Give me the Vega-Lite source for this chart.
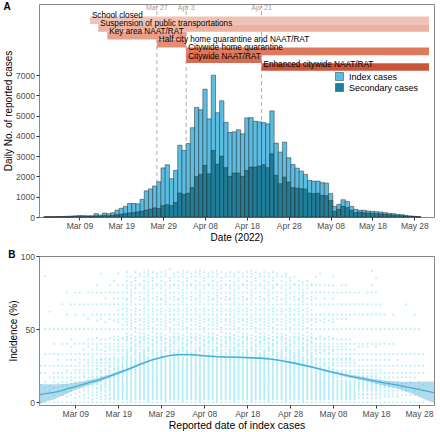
{
"$schema": "https://vega.github.io/schema/vega-lite/v6.json",
"padding": {"left": 3, "top": 1, "right": 1, "bottom": 1},
"bounds": "flush",
"spacing": 39,
"datasets": {
"lines": [
{"date": "2022-03-27T12:00:00Z", "label": "Mar 27"},
{"date": "2022-04-03T12:00:00Z", "label": "Apr 3"},
{"date": "2022-04-21T12:00:00Z", "label": "Apr 21"}
],
"measures": [
{"row": 1, "label": "School closed", "date": "2022-03-11T12:00:00Z", "end": "2022-05-31T12:00:00Z"},
{"row": 2, "label": "Suspension of public transportations", "date": "2022-03-13T12:00:00Z", "end": "2022-05-31T12:00:00Z"},
{"row": 3, "label": "Key area NAAT/RAT", "date": "2022-03-15T16:00:00Z", "end": "2022-04-03T12:00:00Z"},
{"row": 4, "label": "Half city home quarantine and NAAT/RAT", "date": "2022-03-27T12:00:00Z", "end": "2022-04-03T12:00:00Z"},
{"row": 5, "label": "Citywide home quarantine", "date": "2022-04-03T12:00:00Z", "end": "2022-05-31T12:00:00Z"},
{"row": 6, "label": "Citywide NAAT/RAT", "date": "2022-04-03T12:00:00Z", "end": "2022-04-21T12:00:00Z"},
{"row": 7, "label": "Enhanced citywide NAAT/RAT", "date": "2022-04-21T12:00:00Z", "end": "2022-05-31T12:00:00Z"}
],
"cases": [
{"date":"2022-03-01","Index cases":8,"Secondary cases":2},
{"date":"2022-03-02","Index cases":10,"Secondary cases":3},
{"date":"2022-03-03","Index cases":12,"Secondary cases":4},
{"date":"2022-03-04","Index cases":20,"Secondary cases":6},
{"date":"2022-03-05","Index cases":25,"Secondary cases":8},
{"date":"2022-03-06","Index cases":35,"Secondary cases":10},
{"date":"2022-03-07","Index cases":45,"Secondary cases":12},
{"date":"2022-03-08","Index cases":60,"Secondary cases":15},
{"date":"2022-03-09","Index cases":75,"Secondary cases":20},
{"date":"2022-03-10","Index cases":70,"Secondary cases":20},
{"date":"2022-03-11","Index cases":60,"Secondary cases":18},
{"date":"2022-03-12","Index cases":65,"Secondary cases":20},
{"date":"2022-03-13","Index cases":165,"Secondary cases":55},
{"date":"2022-03-14","Index cases":100,"Secondary cases":35},
{"date":"2022-03-15","Index cases":195,"Secondary cases":70},
{"date":"2022-03-16","Index cases":160,"Secondary cases":60},
{"date":"2022-03-17","Index cases":210,"Secondary cases":80},
{"date":"2022-03-18","Index cases":340,"Secondary cases":110},
{"date":"2022-03-19","Index cases":430,"Secondary cases":140},
{"date":"2022-03-20","Index cases":520,"Secondary cases":170},
{"date":"2022-03-21","Index cases":670,"Secondary cases":200},
{"date":"2022-03-22","Index cases":665,"Secondary cases":220},
{"date":"2022-03-23","Index cases":650,"Secondary cases":250},
{"date":"2022-03-24","Index cases":870,"Secondary cases":290},
{"date":"2022-03-25","Index cases":1290,"Secondary cases":340},
{"date":"2022-03-26","Index cases":1385,"Secondary cases":390},
{"date":"2022-03-27","Index cases":1530,"Secondary cases":450},
{"date":"2022-03-28","Index cases":1740,"Secondary cases":420},
{"date":"2022-03-29","Index cases":2420,"Secondary cases":560},
{"date":"2022-03-30","Index cases":2575,"Secondary cases":610},
{"date":"2022-03-31","Index cases":1890,"Secondary cases":560},
{"date":"2022-04-01","Index cases":2300,"Secondary cases":720},
{"date":"2022-04-02","Index cases":3540,"Secondary cases":1180},
{"date":"2022-04-03","Index cases":3285,"Secondary cases":1115},
{"date":"2022-04-04","Index cases":3620,"Secondary cases":1170},
{"date":"2022-04-05","Index cases":4400,"Secondary cases":1450},
{"date":"2022-04-06","Index cases":5400,"Secondary cases":1990},
{"date":"2022-04-07","Index cases":5290,"Secondary cases":2100},
{"date":"2022-04-08","Index cases":6300,"Secondary cases":2545},
{"date":"2022-04-09","Index cases":4840,"Secondary cases":2130},
{"date":"2022-04-10","Index cases":6990,"Secondary cases":3280},
{"date":"2022-04-11","Index cases":5140,"Secondary cases":2600},
{"date":"2022-04-12","Index cases":5730,"Secondary cases":3000},
{"date":"2022-04-13","Index cases":4665,"Secondary cases":2430},
{"date":"2022-04-14","Index cases":4170,"Secondary cases":2000},
{"date":"2022-04-15","Index cases":4200,"Secondary cases":2165},
{"date":"2022-04-16","Index cases":4300,"Secondary cases":2165},
{"date":"2022-04-17","Index cases":4100,"Secondary cases":2000},
{"date":"2022-04-18","Index cases":4885,"Secondary cases":2295},
{"date":"2022-04-19","Index cases":4900,"Secondary cases":2460},
{"date":"2022-04-20","Index cases":4720,"Secondary cases":2460},
{"date":"2022-04-21","Index cases":4690,"Secondary cases":2510},
{"date":"2022-04-22","Index cases":4655,"Secondary cases":2575},
{"date":"2022-04-23","Index cases":4590,"Secondary cases":2430},
{"date":"2022-04-24","Index cases":5230,"Secondary cases":3115},
{"date":"2022-04-25","Index cases":3640,"Secondary cases":2050},
{"date":"2022-04-26","Index cases":3200,"Secondary cases":1640},
{"date":"2022-04-27","Index cases":3690,"Secondary cases":1965},
{"date":"2022-04-28","Index cases":2920,"Secondary cases":1720},
{"date":"2022-04-29","Index cases":2590,"Secondary cases":1440},
{"date":"2022-04-30","Index cases":2410,"Secondary cases":1425},
{"date":"2022-05-01","Index cases":2260,"Secondary cases":1395},
{"date":"2022-05-02","Index cases":2100,"Secondary cases":1375},
{"date":"2022-05-03","Index cases":1800,"Secondary cases":1180},
{"date":"2022-05-04","Index cases":1770,"Secondary cases":1150},
{"date":"2022-05-05","Index cases":1770,"Secondary cases":1165},
{"date":"2022-05-06","Index cases":1690,"Secondary cases":1065},
{"date":"2022-05-07","Index cases":1670,"Secondary cases":1050},
{"date":"2022-05-08","Index cases":1150,"Secondary cases":820},
{"date":"2022-05-09","Index cases":525,"Secondary cases":280},
{"date":"2022-05-10","Index cases":625,"Secondary cases":375},
{"date":"2022-05-11","Index cases":850,"Secondary cases":525},
{"date":"2022-05-12","Index cases":770,"Secondary cases":460},
{"date":"2022-05-13","Index cases":525,"Secondary cases":330},
{"date":"2022-05-14","Index cases":375,"Secondary cases":215},
{"date":"2022-05-15","Index cases":330,"Secondary cases":230},
{"date":"2022-05-16","Index cases":330,"Secondary cases":215},
{"date":"2022-05-17","Index cases":295,"Secondary cases":195},
{"date":"2022-05-18","Index cases":280,"Secondary cases":180},
{"date":"2022-05-19","Index cases":260,"Secondary cases":165},
{"date":"2022-05-20","Index cases":245,"Secondary cases":150},
{"date":"2022-05-21","Index cases":215,"Secondary cases":130},
{"date":"2022-05-22","Index cases":180,"Secondary cases":115},
{"date":"2022-05-23","Index cases":165,"Secondary cases":100},
{"date":"2022-05-24","Index cases":130,"Secondary cases":80},
{"date":"2022-05-25","Index cases":115,"Secondary cases":65},
{"date":"2022-05-26","Index cases":80,"Secondary cases":50},
{"date":"2022-05-27","Index cases":50,"Secondary cases":35},
{"date":"2022-05-28","Index cases":35,"Secondary cases":20},
{"date":"2022-05-29","Index cases":15,"Secondary cases":10}
],
"fit": [
{"date":"2022-02-28T13:00:00Z","fit":5.0,"lo":-1.5,"hi":12.4},
{"date":"2022-03-02","fit":5.9,"lo":0.5,"hi":12.3},
{"date":"2022-03-04","fit":6.8,"lo":2.2,"hi":12.3},
{"date":"2022-03-06","fit":8.2,"lo":4.6,"hi":12.6},
{"date":"2022-03-08","fit":9.9,"lo":7.3,"hi":13.1},
{"date":"2022-03-10","fit":11.6,"lo":9.6,"hi":13.9},
{"date":"2022-03-12","fit":13.3,"lo":11.6,"hi":15.1},
{"date":"2022-03-15","fit":15.9,"lo":14.6,"hi":17.3},
{"date":"2022-03-18","fit":19.0,"lo":18.0,"hi":20.0},
{"date":"2022-03-21","fit":22.3,"lo":21.5,"hi":23.1},
{"date":"2022-03-25","fit":27.0,"lo":26.3,"hi":27.7},
{"date":"2022-03-29","fit":30.7,"lo":30.1,"hi":31.3},
{"date":"2022-04-02","fit":32.6,"lo":32.0,"hi":33.2},
{"date":"2022-04-05","fit":32.6,"lo":32.0,"hi":33.2},
{"date":"2022-04-08","fit":31.8,"lo":31.2,"hi":32.4},
{"date":"2022-04-12","fit":31.1,"lo":30.5,"hi":31.7},
{"date":"2022-04-18","fit":30.6,"lo":30.0,"hi":31.2},
{"date":"2022-04-23","fit":29.7,"lo":29.1,"hi":30.3},
{"date":"2022-04-28","fit":27.4,"lo":26.8,"hi":28.0},
{"date":"2022-05-03","fit":24.2,"lo":23.5,"hi":24.9},
{"date":"2022-05-08","fit":20.5,"lo":19.7,"hi":21.3},
{"date":"2022-05-12","fit":17.8,"lo":16.8,"hi":18.8},
{"date":"2022-05-15","fit":16.2,"lo":15.0,"hi":17.4},
{"date":"2022-05-18","fit":14.3,"lo":12.8,"hi":15.8},
{"date":"2022-05-21","fit":12.8,"lo":10.8,"hi":14.6},
{"date":"2022-05-24","fit":11.3,"lo":8.5,"hi":14.0},
{"date":"2022-05-27","fit":9.4,"lo":5.2,"hi":14.0},
{"date":"2022-05-29","fit":8.2,"lo":2.5,"hi":14.1},
{"date":"2022-05-31T12:00:00Z","fit":6.6,"lo":-0.5,"hi":14.2}
],
"points": [
{"date":"2022-03-01","p":[0,6,12,20,25]},
{"date":"2022-03-02","p":[0,10,14,20,25,33,50,86]},
{"date":"2022-03-03","p":[0,8,11,17,25,33,50,62]},
{"date":"2022-03-04","p":[0,5,10,14,17,20,25,33,40,50]},
{"date":"2022-03-05","p":[0,7,10,13,17,20,25,29,33,50]},
{"date":"2022-03-06","p":[0,5,8,11,14,17,20,25,33,40,50,67]},
{"date":"2022-03-07","p":[0,4,7,10,12,14,17,20,22,25,29,33,40,50,60,75]},
{"date":"2022-03-08","p":[0,5,8,10,13,15,17,20,25,29,33,38,43,50,67]},
{"date":"2022-03-09","p":[0,3,6,9,11,13,14,17,20,22,25,29,33,40,50,60,67,75]},
{"date":"2022-03-10","p":[0,4,7,10,12,14,17,20,22,25,27,30,33,40,50,67,75]},
{"date":"2022-03-11","p":[0,3,5,8,10,12,14,17,18,20,22,25,29,33,36,40,50,60,67]},
{"date":"2022-03-12","p":[0,3,6,8,10,12,14,15,17,20,22,25,27,29,33,38,40,43,50,57,67,75]},
{"date":"2022-03-13","p":[0,2,5,7,9,11,12,14,15,17,18,20,22,25,27,29,31,33,36,40,43,50,60,67,75]},
{"date":"2022-03-14","p":[0,3,5,7,9,10,12,13,14,17,18,20,22,23,25,27,29,33,36,38,40,44,50,56,60,67,75,80]},
{"date":"2022-03-15","p":[0,2,4,6,8,9,10,11,12,14,15,17,18,20,21,22,25,27,29,30,33,36,40,43,50,57,60,67,75,88]},
{"date":"2022-03-16","p":[0,2,4,5,7,8,10,11,12,13,14,15,17,18,20,22,23,25,27,29,30,33,35,38,40,43,50,55,60,67,71,75]},
{"date":"2022-03-17","p":[0,2,3,5,6,8,9,10,11,12,13,14,15,16,17,18,20,21,22,24,25,27,29,30,33,36,38,40,44,50,57,60,67,75,80]},
{"date":"2022-03-18","p":[0,2,3,4,5,6,7,8,9,10,11,12,13,14,15,16,17,18,19,20,22,23,25,27,29,30,31,33,36,38,40,43,45,50,56,60,67,71,75,83]},
{"date":"2022-03-19","p":[0,2,3,4,5,6,7,8,9,10,11,12,13,14,15,16,17,18,19,20,21,22,23,24,25,27,28,29,30,33,35,36,38,40,42,43,45,50,55,57,60,63,67,71,75,80,88]},
{"date":"2022-03-20","p":[0,2,3,4,5,6,7,8,9,10,11,12,13,14,15,16,17,18,19,20,21,22,23,24,25,26,27,29,30,31,33,35,36,38,40,43,44,50,53,57,60,64,67,71,75,80]},
{"date":"2022-03-21","p":[0,2,3,4,5,6,7,8,9,10,11,12,13,14,15,16,17,18,19,20,21,22,23,24,25,26,27,28,29,30,31,32,33,34,35,36,38,40,42,43,44,45,47,50,53,55,57,60,62,64,67,70,71,75,78,80,83,86,89]},
{"date":"2022-03-22","p":[0,1,2,3,4,5,6,7,8,9,10,11,12,13,14,15,16,17,18,19,20,21,22,23,24,25,26,27,28,29,30,31,33,35,36,37,38,40,41,43,44,46,50,52,54,56,58,60,63,67,69,71,73,75,77,80,82,86]},
{"date":"2022-03-23","p":[0,2,3,4,5,6,7,8,9,10,11,12,13,14,15,16,17,18,19,20,21,22,23,24,25,26,27,28,29,30,32,33,34,35,36,38,39,40,42,43,45,48,50,51,55,57,60,62,64,67,71,75,78,80,83,85,89]},
{"date":"2022-03-24","p":[0,2,3,4,5,6,7,8,9,10,11,12,13,14,15,16,17,18,19,20,21,22,23,24,25,26,27,28,29,30,31,32,33,34,36,38,40,41,42,44,45,47,50,53,56,57,60,63,67,70,72,75,80,81,86,88]},
{"date":"2022-03-25","p":[0,2,3,4,5,6,7,8,9,10,11,12,13,14,15,16,17,18,19,20,21,22,23,24,25,26,27,28,29,30,31,32,33,34,35,36,38,40,42,43,44,45,47,50,53,55,57,60,62,64,67,70,71,75,78,80,83,86,89]},
{"date":"2022-03-26","p":[0,1,2,3,4,5,6,7,8,9,10,11,12,13,14,15,16,17,18,19,20,21,22,23,24,25,26,27,28,29,30,31,33,35,36,37,38,40,41,43,44,46,50,52,54,56,58,60,63,67,69,71,73,75,77,80,82,86,88,90]},
{"date":"2022-03-27","p":[0,2,3,4,5,6,7,8,9,10,11,12,13,14,15,16,17,18,19,20,21,22,23,24,25,26,27,28,29,30,32,33,34,35,36,38,39,40,42,43,45,48,50,51,55,57,60,62,64,67,71,75,78,80,83,85,89]},
{"date":"2022-03-28","p":[0,2,3,4,5,6,7,8,9,10,11,12,13,14,15,16,17,18,19,20,21,22,23,24,25,26,27,28,29,30,31,32,33,34,36,38,40,41,42,44,45,47,50,53,56,57,60,63,67,70,72,75,80,81,86,88]},
{"date":"2022-03-29","p":[0,2,3,4,5,6,7,8,9,10,11,12,13,14,15,16,17,18,19,20,21,22,23,24,25,26,27,28,29,30,31,32,33,34,35,36,38,40,42,43,44,45,47,50,53,55,57,60,62,64,67,70,71,75,78,80,83,86,89]},
{"date":"2022-03-30","p":[0,1,2,3,4,5,6,7,8,9,10,11,12,13,14,15,16,17,18,19,20,21,22,23,24,25,26,27,28,29,30,31,33,35,36,37,38,40,41,43,44,46,50,52,54,56,58,60,63,67,69,71,73,75,77,80,82,86,88,90]},
{"date":"2022-03-31","p":[0,2,3,4,5,6,7,8,9,10,11,12,13,14,15,16,17,18,19,20,21,22,23,24,25,26,27,28,29,30,32,33,34,35,36,38,39,40,42,43,45,48,50,51,55,57,60,62,64,67,71,75,78,80,83,85,91]},
{"date":"2022-04-01","p":[0,2,3,4,5,6,7,8,9,10,11,12,13,14,15,16,17,18,19,20,21,22,23,24,25,26,27,28,29,30,31,32,33,34,36,38,40,41,42,44,45,47,50,53,56,57,60,63,67,70,72,75,80,81,86,88]},
{"date":"2022-04-02","p":[0,2,3,4,5,6,7,8,9,10,11,12,13,14,15,16,17,18,19,20,21,22,23,24,25,26,27,28,29,30,31,32,33,34,35,36,38,40,42,43,44,45,47,50,53,55,57,60,62,64,67,70,71,75,78,80,83,86,89]},
{"date":"2022-04-03","p":[0,1,2,3,4,5,6,7,8,9,10,11,12,13,14,15,16,17,18,19,20,21,22,23,24,25,26,27,28,29,30,31,33,35,36,37,38,40,41,43,44,46,50,52,54,56,58,60,63,67,69,71,73,75,77,80,82,86,88,90]},
{"date":"2022-04-04","p":[0,2,3,4,5,6,7,8,9,10,11,12,13,14,15,16,17,18,19,20,21,22,23,24,25,26,27,28,29,30,32,33,34,35,36,38,39,40,42,43,45,48,50,51,55,57,60,62,64,67,71,75,78,80,83,85,89]},
{"date":"2022-04-05","p":[0,2,3,4,5,6,7,8,9,10,11,12,13,14,15,16,17,18,19,20,21,22,23,24,25,26,27,28,29,30,31,32,33,34,36,38,40,41,42,44,45,47,50,53,56,57,60,63,67,70,72,75,80,81,86,88]},
{"date":"2022-04-06","p":[0,2,3,4,5,6,7,8,9,10,11,12,13,14,15,16,17,18,19,20,21,22,23,24,25,26,27,28,29,30,31,32,33,34,35,36,38,40,42,43,44,45,47,50,53,55,57,60,62,64,67,70,71,75,78,80,83,86,89]},
{"date":"2022-04-07","p":[0,1,2,3,4,5,6,7,8,9,10,11,12,13,14,15,16,17,18,19,20,21,22,23,24,25,26,27,28,29,30,31,33,35,36,37,38,40,41,43,44,46,50,52,54,56,58,60,63,67,69,71,73,75,77,80,82,86,88,90]},
{"date":"2022-04-08","p":[0,2,3,4,5,6,7,8,9,10,11,12,13,14,15,16,17,18,19,20,21,22,23,24,25,26,27,28,29,30,32,33,34,35,36,38,39,40,42,43,45,48,50,51,55,57,60,62,64,67,71,75,78,80,83,85,89]},
{"date":"2022-04-09","p":[0,2,3,4,5,6,7,8,9,10,11,12,13,14,15,16,17,18,19,20,21,22,23,24,25,26,27,28,29,30,31,32,33,34,36,38,40,41,42,44,45,47,50,53,56,57,60,63,67,70,72,75,80,81,86,88]},
{"date":"2022-04-10","p":[0,2,3,4,5,6,7,8,9,10,11,12,13,14,15,16,17,18,19,20,21,22,23,24,25,26,27,28,29,30,31,32,33,34,35,36,38,40,42,43,44,45,47,50,53,55,57,60,62,64,67,70,71,75,78,80,83,86,89]},
{"date":"2022-04-11","p":[0,1,2,3,4,5,6,7,8,9,10,11,12,13,14,15,16,17,18,19,20,21,22,23,24,25,26,27,28,29,30,31,33,35,36,37,38,40,41,43,44,46,50,52,54,56,58,60,63,67,69,71,73,75,77,80,82,86,88,90]},
{"date":"2022-04-12","p":[0,2,3,4,5,6,7,8,9,10,11,12,13,14,15,16,17,18,19,20,21,22,23,24,25,26,27,28,29,30,32,33,34,35,36,38,39,40,42,43,45,48,50,51,55,57,60,62,64,67,71,75,78,80,83,85,89]},
{"date":"2022-04-13","p":[0,2,3,4,5,6,7,8,9,10,11,12,13,14,15,16,17,18,19,20,21,22,23,24,25,26,27,28,29,30,31,32,33,34,36,38,40,41,42,44,45,47,50,53,56,57,60,63,67,70,72,75,80,81,86,88]},
{"date":"2022-04-14","p":[0,2,3,4,5,6,7,8,9,10,11,12,13,14,15,16,17,18,19,20,21,22,23,24,25,26,27,28,29,30,31,32,33,34,35,36,38,40,42,43,44,45,47,50,53,55,57,60,62,64,67,70,71,75,78,80,83,86,89]},
{"date":"2022-04-15","p":[0,1,2,3,4,5,6,7,8,9,10,11,12,13,14,15,16,17,18,19,20,21,22,23,24,25,26,27,28,29,30,31,33,35,36,37,38,40,41,43,44,46,50,52,54,56,58,60,63,67,69,71,73,75,77,80,82,86,88]},
{"date":"2022-04-16","p":[0,2,3,4,5,6,7,8,9,10,11,12,13,14,15,16,17,18,19,20,21,22,23,24,25,26,27,28,29,30,32,33,34,35,36,38,39,40,42,43,45,48,50,51,55,57,60,62,64,67,71,75,78,80,83,85,89]},
{"date":"2022-04-17","p":[0,2,3,4,5,6,7,8,9,10,11,12,13,14,15,16,17,18,19,20,21,22,23,24,25,26,27,28,29,30,31,32,33,34,36,38,40,41,42,44,45,47,50,53,56,57,60,63,67,70,72,75,80,81,86,88]},
{"date":"2022-04-18","p":[0,2,3,4,5,6,7,8,9,10,11,12,13,14,15,16,17,18,19,20,21,22,23,24,25,26,27,28,29,30,31,32,33,34,35,36,38,40,42,43,44,45,47,50,53,55,57,60,62,64,67,70,71,75,78,80,83,86,89]},
{"date":"2022-04-19","p":[0,1,2,3,4,5,6,7,8,9,10,11,12,13,14,15,16,17,18,19,20,21,22,23,24,25,26,27,28,29,30,31,33,35,36,37,38,40,41,43,44,46,50,52,54,56,58,60,63,67,69,71,73,75,77,80,82,86,88,90]},
{"date":"2022-04-20","p":[0,2,3,4,5,6,7,8,9,10,11,12,13,14,15,16,17,18,19,20,21,22,23,24,25,26,27,28,29,30,32,33,34,35,36,38,39,40,42,43,45,48,50,51,55,57,60,62,64,67,71,75,78,80,83,85,89]},
{"date":"2022-04-21","p":[0,2,3,4,5,6,7,8,9,10,11,12,13,14,15,16,17,18,19,20,21,22,23,24,25,26,27,28,29,30,31,32,33,34,36,38,40,41,42,44,45,47,50,53,56,57,60,63,67,70,72,75,80,81,86,88]},
{"date":"2022-04-22","p":[0,2,3,4,5,6,7,8,9,10,11,12,13,14,15,16,17,18,19,20,21,22,23,24,25,26,27,28,29,30,31,32,33,34,35,36,38,40,42,43,44,45,47,50,53,55,57,60,62,64,67,70,71,75,78,80,83,86,89]},
{"date":"2022-04-23","p":[0,1,2,3,4,5,6,7,8,9,10,11,12,13,14,15,16,17,18,19,20,21,22,23,24,25,26,27,28,29,30,31,33,35,36,37,38,40,41,43,44,46,50,52,54,56,58,60,63,67,69,71,73,75,77,80,82,86,88]},
{"date":"2022-04-24","p":[0,2,3,4,5,6,7,8,9,10,11,12,13,14,15,16,17,18,19,20,21,22,23,24,25,26,27,28,29,30,32,33,34,35,36,38,39,40,42,43,45,48,50,51,55,57,60,62,64,67,71,75,78,80,83,85,89]},
{"date":"2022-04-25","p":[0,2,3,4,5,6,7,8,9,10,11,12,13,14,15,16,17,18,19,20,21,22,23,24,25,26,27,28,29,30,31,32,33,34,36,38,40,41,42,44,45,47,50,53,56,57,60,63,67,70,72,75,80,81,86,88]},
{"date":"2022-04-26","p":[0,2,3,4,5,6,7,8,9,10,11,12,13,14,15,16,17,18,19,20,21,22,23,24,25,26,27,28,29,30,31,32,33,34,35,36,38,40,42,43,44,45,47,50,53,55,57,60,62,64,67,70,71,75,78,80,83,86]},
{"date":"2022-04-27","p":[0,1,2,3,4,5,6,7,8,9,10,11,12,13,14,15,16,17,18,19,20,21,22,23,24,25,26,27,28,29,30,31,33,35,36,37,38,40,41,43,44,46,50,52,54,56,58,60,63,67,69,71,73,75,77,80,82,86,88]},
{"date":"2022-04-28","p":[0,2,3,4,5,6,7,8,9,10,11,12,13,14,15,16,17,18,19,20,21,22,23,24,25,26,27,28,29,30,32,33,34,35,36,38,39,40,42,43,45,48,50,51,55,57,60,62,64,67,71,75,78,80,83,85]},
{"date":"2022-04-29","p":[0,2,3,4,5,6,7,8,9,10,11,12,13,14,15,16,17,18,19,20,21,22,23,24,25,26,27,28,29,30,31,32,33,34,36,38,40,41,42,44,45,47,50,53,56,57,60,63,67,70,72,75,80,81,86]},
{"date":"2022-04-30","p":[0,2,3,4,5,6,7,8,9,10,11,12,13,14,15,16,17,18,19,20,21,22,23,24,25,26,27,28,29,30,31,32,33,34,35,36,38,40,42,43,44,45,47,50,53,55,57,60,62,64,67,70,71,75,78,80,83]},
{"date":"2022-05-01","p":[0,1,2,3,4,5,6,7,8,9,10,11,12,13,14,15,16,17,18,19,20,21,22,23,24,25,26,27,28,29,30,31,33,35,36,37,38,40,41,43,44,46,50,52,54,56,58,60,63,67,69,71,73,75,77,80,82]},
{"date":"2022-05-02","p":[0,2,3,4,5,6,7,8,9,10,11,12,13,14,15,16,17,18,19,20,21,22,23,24,25,26,27,28,29,30,32,33,34,35,36,38,39,40,42,43,45,48,50,51,55,57,60,62,64,67,71,75,78,80,83]},
{"date":"2022-05-03","p":[0,2,3,4,5,6,7,8,9,10,11,12,13,14,15,16,17,18,19,20,21,22,23,24,25,26,27,28,29,30,31,32,33,34,36,38,40,41,42,44,45,47,50,53,56,57,60,63,67,70,72,75,80,81]},
{"date":"2022-05-04","p":[0,2,3,4,5,6,7,8,9,10,11,12,13,14,15,16,17,18,19,20,21,22,23,25,26,27,29,30,33,35,36,38,40,43,44,50,55,57,60,67,71,75,80,86]},
{"date":"2022-05-05","p":[0,2,3,4,5,6,7,8,9,10,11,12,13,14,15,16,17,18,19,20,21,22,23,24,25,27,29,30,33,34,36,38,40,43,45,50,56,60,67,75,80,88]},
{"date":"2022-05-06","p":[0,2,3,4,5,6,7,8,9,10,11,12,13,14,15,16,17,18,19,20,21,22,23,25,26,27,29,30,33,35,36,38,40,43,44,50,55,57,60,67,71,75,80]},
{"date":"2022-05-07","p":[0,2,3,4,5,6,7,8,9,10,11,12,13,14,15,16,17,18,19,20,21,22,23,24,25,27,29,30,33,34,36,38,40,43,45,50,56,60,67,75,80]},
{"date":"2022-05-08","p":[0,2,3,4,5,6,7,8,9,10,11,12,13,14,15,16,17,18,19,20,21,22,23,25,26,27,29,30,33,35,36,38,40,43,44,50,55,57,60,67,71,75,80,86]},
{"date":"2022-05-09","p":[0,2,3,4,5,6,7,8,9,10,11,12,13,14,15,17,18,20,21,22,25,27,29,30,33,36,38,40,43,50,57,60,67,75]},
{"date":"2022-05-10","p":[0,2,3,4,5,6,7,8,9,10,11,12,13,14,15,17,18,20,21,22,25,27,29,30,33,36,38,40,43,50,57,60,67,75,80]},
{"date":"2022-05-11","p":[0,2,3,4,5,6,7,8,9,10,11,12,13,14,15,17,18,20,21,22,25,27,29,30,33,36,38,40,43,50,57,60,67,75,80]},
{"date":"2022-05-12","p":[0,2,3,4,5,6,7,8,9,10,11,12,13,14,15,17,18,20,21,22,25,27,29,30,33,36,40,43,50,60,67,75]},
{"date":"2022-05-13","p":[0,2,3,4,5,6,7,8,9,10,11,12,13,14,15,17,18,20,22,25,27,29,33,36,40,50,60,67,75]},
{"date":"2022-05-14","p":[0,3,5,6,8,9,10,11,12,13,14,15,17,18,20,22,25,29,33,38,40,50,60,67,75]},
{"date":"2022-05-15","p":[0,3,5,6,8,9,10,11,12,13,14,15,17,18,20,22,25,29,33,38,40,50,60,67]},
{"date":"2022-05-16","p":[0,3,5,6,8,9,10,11,12,13,14,15,17,18,20,22,25,29,33,38,40,50,60,67,75]},
{"date":"2022-05-17","p":[0,3,5,6,8,9,10,11,12,13,14,15,17,18,20,22,25,29,33,40,50,60,67,75,80,90]},
{"date":"2022-05-18","p":[0,3,5,6,8,9,10,11,12,13,14,15,17,18,20,22,25,29,33,38,40,50,60,67,75,85]},
{"date":"2022-05-19","p":[0,3,5,6,8,10,11,12,14,15,17,20,22,25,29,33,40,50,60,67]},
{"date":"2022-05-20","p":[0,4,6,8,10,11,12,14,17,20,25,29,33,40,50,60]},
{"date":"2022-05-21","p":[0,4,6,8,10,11,12,14,17,20,25,29,33,40,50]},
{"date":"2022-05-22","p":[0,4,6,8,10,12,14,17,20,25,33,40,50,60]},
{"date":"2022-05-23","p":[0,4,6,8,10,12,14,17,20,25,29,33,50]},
{"date":"2022-05-24","p":[0,5,8,10,13,17,20,25,33,50]},
{"date":"2022-05-25","p":[0,5,8,10,13,17,20,25,33,50,67]},
{"date":"2022-05-26","p":[0,5,10,14,17,20,25,33,50]},
{"date":"2022-05-27","p":[0,5,8,10,17,20,25,33,50,60]},
{"date":"2022-05-28","p":[0,6,10,14,20,25,33,50]},
{"date":"2022-05-29","p":[0,8,12,20,25,33]}
]
},
"vconcat": [
{
"width": 395,
"height": 213,
"title": {"text": "A", "anchor": "start", "frame": "bounds", "fontSize": 10, "fontWeight": "bold", "offset": -8},
"encoding": {
"x": {"field": "date", "type": "temporal",
"scale": {"type": "utc", "domain": [{"year": 2022, "month": "feb", "date": 28, "hours": 13, "utc": true}, {"year": 2022, "month": "may", "date": 31, "hours": 12, "utc": true}]},
"axis": {"title": "Date (2022)", "format": "%b %d", "values": [
{"year": 2022, "month": "mar", "date": 9, "utc": true},
{"year": 2022, "month": "mar", "date": 19, "utc": true},
{"year": 2022, "month": "mar", "date": 29, "utc": true},
{"year": 2022, "month": "apr", "date": 8, "utc": true},
{"year": 2022, "month": "apr", "date": 18, "utc": true},
{"year": 2022, "month": "apr", "date": 28, "utc": true},
{"year": 2022, "month": "may", "date": 8, "utc": true},
{"year": 2022, "month": "may", "date": 18, "utc": true},
{"year": 2022, "month": "may", "date": 28, "utc": true}]}}
},
"layer": [
{"data": {"name": "lines"},
"mark": {"type": "text", "fontSize": 7, "color": "#a0a0a0", "align": "center", "baseline": "middle"},
"encoding": {"y": {"datum": 0, "type": "quantitative", "scale": {"domain": [-0.444, 25.63], "reverse": true, "nice": false, "zero": false}, "axis": null}, "text": {"field": "label"}}},
{"data": {"name": "lines"},
"mark": {"type": "rule", "color": "#a6a6a6", "strokeDash": [4, 3], "strokeWidth": 0.9},
"encoding": {}},
{"data": {"name": "cases"},
"transform": [{"fold": ["Index cases", "Secondary cases"], "as": ["type", "count"]}],
"mark": {"type": "bar", "size": 4.3, "stroke": "#2b2b2b", "strokeWidth": 0.5},
"encoding": {
"y": {"field": "count", "type": "quantitative", "stack": null, "scale": {"domain": [0, 10500], "nice": false},
"axis": {"title": "Daily No. of reported cases", "values": [0, 1000, 2000, 3000, 4000, 5000, 6000, 7000], "format": "d"}},
"color": {"field": "type", "type": "nominal", "scale": {"domain": ["Index cases", "Secondary cases"], "range": ["#5bbde2", "#1f7e99"]},
"legend": {"title": null, "orient": "none", "legendX": 296, "legendY": 68, "symbolType": "square", "symbolSize": 64, "labelFontSize": 9, "labelColor": "#000", "rowPadding": 0, "symbolStrokeColor": "#333", "symbolStrokeWidth": 0.5, "labelOffset": 5}}}},
{"data": {"name": "measures"},
"mark": {"type": "bar", "orient": "horizontal", "size": 7.6},
"encoding": {
"x2": {"field": "end"},
"y": {"field": "row", "type": "quantitative", "scale": {"domain": [-0.444, 25.63], "reverse": true, "nice": false, "zero": false}, "axis": null},
"color": {"field": "label", "type": "nominal", "legend": null,
"scale": {"domain": ["School closed", "Suspension of public transportations", "Key area NAAT/RAT", "Half city home quarantine and NAAT/RAT", "Citywide home quarantine", "Citywide NAAT/RAT", "Enhanced citywide NAAT/RAT"],
"range": ["#efc3b6", "#ebb2a1", "#e8a08a", "#e48f75", "#dd7a5d", "#d86c50", "#c9553b"]}}}},
{"data": {"name": "measures"},
"mark": {"type": "text", "fontSize": 8.2, "align": "left", "baseline": "middle", "dx": 2, "color": "#000"},
"encoding": {
"y": {"field": "row", "type": "quantitative", "scale": {"domain": [-0.444, 25.63], "reverse": true, "nice": false, "zero": false}, "axis": null},
"text": {"field": "label"}}}
],
"resolve": {"scale": {"y": "independent", "color": "independent"}}
},
{
"width": 395,
"height": 149,
"title": {"text": "B", "anchor": "start", "frame": "bounds", "fontSize": 10, "fontWeight": "bold", "offset": -8},
"encoding": {
"x": {"field": "date", "type": "temporal",
"scale": {"type": "utc", "domain": [{"year": 2022, "month": "feb", "date": 28, "hours": 13, "utc": true}, {"year": 2022, "month": "may", "date": 31, "hours": 12, "utc": true}]},
"axis": {"title": "Reported date of index cases", "titleFontSize": 10.5, "format": "%b %d", "values": [
{"year": 2022, "month": "mar", "date": 9, "utc": true},
{"year": 2022, "month": "mar", "date": 19, "utc": true},
{"year": 2022, "month": "mar", "date": 29, "utc": true},
{"year": 2022, "month": "apr", "date": 8, "utc": true},
{"year": 2022, "month": "apr", "date": 18, "utc": true},
{"year": 2022, "month": "apr", "date": 28, "utc": true},
{"year": 2022, "month": "may", "date": 8, "utc": true},
{"year": 2022, "month": "may", "date": 18, "utc": true},
{"year": 2022, "month": "may", "date": 28, "utc": true}]}}
},
"layer": [
{"data": {"name": "points"},
"transform": [{"flatten": ["p"]}],
"mark": {"type": "square", "size": 3, "color": "#a8ecf5", "opacity": 0.9},
"encoding": {"y": {"field": "p", "type": "quantitative", "scale": {"domain": [-1.8, 100], "nice": false, "zero": false},
"axis": {"title": "Incidence (%)", "values": [0, 25, 50, 75, 100]}}}},
{"data": {"name": "fit"},
"mark": {"type": "area", "interpolate": "monotone", "color": "#4fb0d8", "opacity": 0.45, "clip": true},
"encoding": {"y": {"field": "lo", "type": "quantitative"}, "y2": {"field": "hi"}}},
{"data": {"name": "fit"},
"mark": {"type": "line", "interpolate": "monotone", "color": "#48aed6", "strokeWidth": 1.3, "clip": true},
"encoding": {"y": {"field": "fit", "type": "quantitative"}}}
]
}
],
"config": {
"font": "Liberation Sans",
"view": {"stroke": "#888", "strokeWidth": 1},
"axis": {"grid": false, "domain": false, "tickColor": "#333", "tickSize": 3, "labelFontSize": 8.5, "labelColor": "#4d4d4d", "titleFontSize": 10, "titleFontWeight": "normal", "titleColor": "#000", "labelPadding": 1.5, "titlePadding": 2}
}
}
